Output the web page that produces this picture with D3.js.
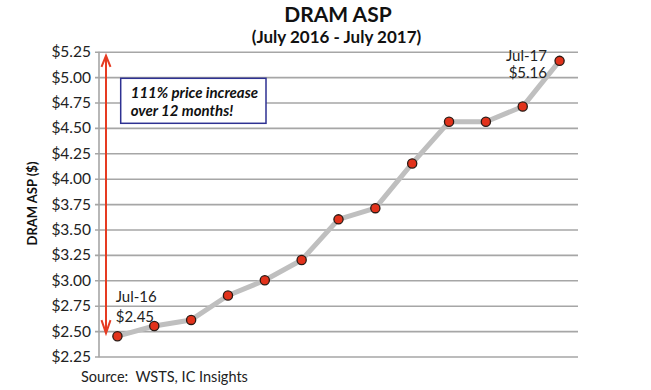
<!DOCTYPE html>
<html>
<head>
<meta charset="utf-8">
<script src="https://cdn.jsdelivr.net/npm/d3@7"></script>
<style>
  html, body { margin: 0; padding: 0; background: #fff; }
  svg { display: block; font-family: Lato, "Open Sans", sans-serif; }
</style>
</head>
<body>
<svg id="chart" width="651" height="390"></svg>
<script>
const months = ["Jul-16","Aug-16","Sep-16","Oct-16","Nov-16","Dec-16","Jan-17","Feb-17","Mar-17","Apr-17","May-17","Jun-17","Jul-17"];
const asp = [2.45, 2.55, 2.61, 2.85, 3.00, 3.20, 3.60, 3.71, 4.15, 4.56, 4.56, 4.71, 5.16];
const yTicks = [2.25, 2.50, 2.75, 3.00, 3.25, 3.50, 3.75, 4.00, 4.25, 4.50, 4.75, 5.00, 5.25];
const titleText = "DRAM ASP";
const subtitleText = "(July 2016 - July 2017)";
const yAxisTitle = "DRAM ASP ($)";
const annotationLines = ["111% price increase", "over 12 months!"];
const firstLabel = ["Jul-16", "$2.45"];
const lastLabel = ["Jul-17", "$5.16"];
const sourceText = "Source:  WSTS, IC Insights";

const svg = d3.select("#chart");
const m = {left: 99, right: 578, top: 51.7, bottom: 356.5};

const x = d3.scaleBand().domain(months).range([m.left, m.right]).paddingInner(0).paddingOuter(0);
const cx = d => x(d) + x.bandwidth() / 2;
const y = d3.scaleLinear().domain([2.25, 5.25]).range([m.bottom, m.top]);

// gridlines + y axis
const yAxis = d3.axisLeft(y).tickValues(yTicks).tickSize(-(m.right - m.left)).tickPadding(8)
  .tickFormat(d => "$" + d3.format(".2f")(d));
const gy = svg.append("g").attr("transform", `translate(${m.left},0)`).call(yAxis);
gy.select(".domain").remove();
gy.selectAll(".tick line").attr("stroke", "#a6a6a6").attr("stroke-width", 1.6).attr("x1", -4);
gy.selectAll(".tick text").attr("fill", "#222").style("font-size", "15.5px").style("font-family", "Lato, sans-serif");

// vertical axis line
svg.append("line").attr("x1", m.left).attr("x2", m.left).attr("y1", m.top).attr("y2", m.bottom + 0.8)
  .attr("stroke", "#a6a6a6").attr("stroke-width", 1.6);

// titles
svg.append("text").attr("x", 338).attr("y", 22).attr("text-anchor", "middle")
  .style("font-weight", "bold").style("font-size", "21px").attr("fill", "#111").text(titleText);
svg.append("text").attr("x", 336.5).attr("y", 42.5).attr("text-anchor", "middle")
  .style("font-weight", "bold").style("font-size", "17px").attr("fill", "#111").text(subtitleText);

// y axis title
svg.append("text").attr("transform", "translate(37,203.5) rotate(-90)").attr("text-anchor", "middle")
  .style("font-weight", "bold").style("font-size", "13px").attr("fill", "#111").text(yAxisTitle);

// red double arrow
const red = "#e63b22";
const ax = 106;
svg.append("line").attr("x1", ax).attr("x2", ax).attr("y1", y(5.21)).attr("y2", y(2.48))
  .attr("stroke", red).attr("stroke-width", 2);
svg.append("path").attr("d", `M${ax-4.5},${y(5.21)+11} L${ax},${y(5.21)} L${ax+4.5},${y(5.21)+11}`)
  .attr("fill", "none").attr("stroke", red).attr("stroke-width", 2);
svg.append("path").attr("d", `M${ax-4.5},${y(2.48)-13} L${ax},${y(2.48)} L${ax+4.5},${y(2.48)-13}`)
  .attr("fill", "none").attr("stroke", red).attr("stroke-width", 2);

// annotation box
svg.append("rect").attr("x", 120.7).attr("y", 78.3).attr("width", 145.3).attr("height", 45)
  .attr("fill", "#fff").attr("stroke", "#2e3192").attr("stroke-width", 1.5);
svg.selectAll(".ann").data(annotationLines).enter().append("text")
  .attr("x", 130.7).attr("y", (d, i) => 98 + i * 17.5)
  .style("font-weight", "bold").style("font-style", "italic").style("font-size", "15px")
  .attr("fill", "#111").text(d => d);

// line
const line = d3.line().x((d, i) => cx(months[i])).y(d => y(d));
svg.append("path").datum(asp).attr("d", line).attr("fill", "none")
  .attr("stroke", "#bfbfbf").attr("stroke-width", 5).attr("stroke-linejoin", "round");

// markers
svg.selectAll(".pt").data(asp).enter().append("circle")
  .attr("cx", (d, i) => cx(months[i])).attr("cy", d => y(d)).attr("r", 4.6)
  .attr("fill", "#e2321b").attr("stroke", "#2a1a14").attr("stroke-width", 1.3);

// point labels
svg.selectAll(".fl").data(firstLabel).enter().append("text")
  .attr("x", 115.7).attr("y", (d, i) => 302.3 + i * 19.4)
  .style("font-size", "15px").attr("fill", "#222").text(d => d);
svg.selectAll(".ll").data(lastLabel).enter().append("text")
  .attr("x", 547).attr("y", (d, i) => 60.7 + i * 17.6).attr("text-anchor", "end")
  .style("font-size", "15px").attr("fill", "#222").text(d => d);

// source
svg.append("text").attr("x", 81).attr("y", 381.7).style("font-size", "14.5px")
  .style("white-space", "pre").attr("xml:space", "preserve").attr("fill", "#222").text(sourceText);
</script>
</body>
</html>
